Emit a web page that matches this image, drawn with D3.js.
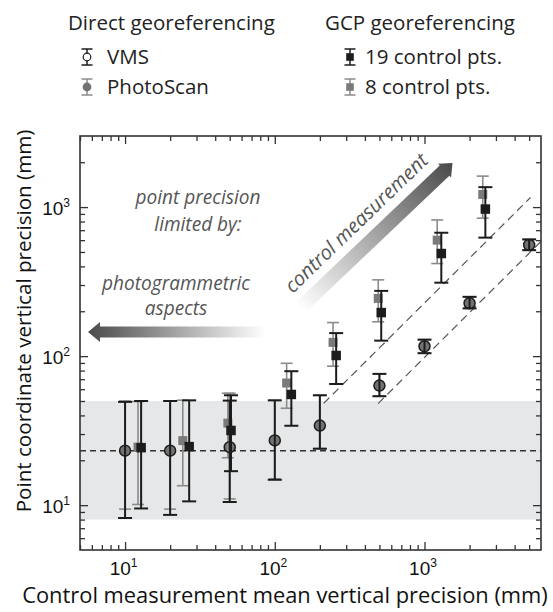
<!DOCTYPE html>
<html><head><meta charset="utf-8">
<script src="https://cdn.jsdelivr.net/npm/d3@7"></script>
<style>body{margin:0;background:#fff} svg{display:block}</style>
</head><body><svg id="c" width="553" height="612"></svg>
<script>
// ---------------- data ----------------
const vmsX  = [10, 20, 50, 100, 200, 500, 1000, 2000, 5000];
const vmsY  = [23.2, 23.2, 24.5, 27.2, 34.2, 63.4, 116.4, 226.5, 557];
const vmsLo = [8.2, 8.6, 10.5, 14.8, 23.9, 53.8, 104.6, 209, 514];
const vmsHi = [49.3, 50, 50.3, 50.5, 54.6, 76, 129, 250, 607];

const psX  = [10, 20, 50, 100, 200, 500, 1000, 2000, 5000];
const psY  = [23.2, 23.2, 24.5, 27.2, 34.2, 63.4, 116.4, 226.5, 557];
const psLo = [9.4, 9.4, 11.0, 15.0, 24.0, 54.0, 105, 210, 515];
const psHi = [50, 50, 56.3, 50.5, 54.6, 76, 129, 250, 607];

const gcp19X  = [12.8, 26.8, 51, 129, 257, 514, 1295, 2550];
const gcp19Y  = [24.3, 24.7, 31.7, 55.3, 101, 196, 488, 970];
const gcp19Lo = [9.5, 10.6, 16.9, 34.1, 65, 127, 311, 624];
const gcp19Hi = [50, 50.5, 54.6, 79.2, 142.7, 274, 673, 1361];

const gcp8X  = [12.2, 24.3, 48.6, 120, 245, 491, 1216, 2450];
const gcp8Y  = [24.5, 27.1, 35.5, 66, 123.7, 244, 600, 1216];
const gcp8Lo = [10.1, 13.5, 20.8, 44.7, 85.6, 170, 418, 843];
const gcp8Hi = [49.6, 50.6, 56.3, 89.5, 168, 325, 820, 1614];

const bandRange = [8, 50];
const meanLevel = 23.2;
const guideRatio  = [4.4, 10.2];     // guide: y = x / ratio
const guideXStart = [212, 490];
const guideXEnd   = [5100, 6000];

const xDomain = [5, 6000];
const yDomain = [5, 3000];
const xMajor = [10, 100, 1000];
const yMajor = [10, 100, 1000];
const xMinor = [5,6,7,8,9,20,30,40,50,60,70,80,90,200,300,400,500,600,700,800,900,2000,3000,4000,5000];
const yMinor = [6,7,8,9,20,30,40,50,60,70,80,90,200,300,400,500,600,700,800,900,2000];

const xTitle = "Control measurement mean vertical precision (mm)";
const yTitle = "Point coordinate vertical precision (mm)";
const legendHeads = ["Direct georeferencing", "GCP georeferencing"];
const legendLeft  = ["VMS", "PhotoScan"];
const legendRight = ["19 control pts.", "8 control pts."];
const noteLines1 = ["point precision", "limited by:"];
const noteLines2 = ["photogrammetric", "aspects"];
const noteArrow  = "control measurement";

// ---------------- layout ----------------
const FONT = "'Open Sans', 'Noto Sans', sans-serif";
const L = 80, R = 541, T = 136, B = 550;
const svg = d3.select("#c").style("font-family", FONT);
const x = d3.scaleLog().domain(xDomain).range([L, R]);
const y = d3.scaleLog().domain(yDomain).range([B, T]);

const BLACK = "#1c1c1c", GRAYBAR = "#8b8b8b", GRAYFILL = "#7a7a7a", CIRC = "#727272";

function fit(sel, target, base) {
  sel.attr("font-size", base);
  const len = sel.node().getComputedTextLength();
  const s = base * target / len;
  sel.attr("font-size", s);
  return s;
}

const defs = svg.append("defs");
defs.append("clipPath").attr("id", "plot").append("rect")
  .attr("x", L).attr("y", T).attr("width", R - L).attr("height", B - T);
const grad = defs.append("linearGradient").attr("id", "arrowGrad")
  .attr("x1", 0).attr("x2", 1).attr("y1", 0).attr("y2", 0);
grad.append("stop").attr("offset", "0%").attr("stop-color", "#ffffff");
grad.append("stop").attr("offset", "100%").attr("stop-color", "#4a4a4a");

const plot = svg.append("g").attr("clip-path", "url(#plot)");

// gray band
plot.append("rect").attr("x", L).attr("width", R - L)
  .attr("y", y(bandRange[1])).attr("height", y(bandRange[0]) - y(bandRange[1]))
  .attr("fill", "#e6e7e8");

// mean dashed level
plot.append("line").attr("x1", L).attr("x2", R)
  .attr("y1", y(meanLevel)).attr("y2", y(meanLevel))
  .attr("stroke", "#333").attr("stroke-width", 1.6).attr("stroke-dasharray", "6,4");

// diagonal guides
guideRatio.forEach((r, i) => {
  plot.append("line")
    .attr("x1", x(guideXStart[i])).attr("y1", y(guideXStart[i] / r))
    .attr("x2", x(guideXEnd[i])).attr("y2", y(guideXEnd[i] / r))
    .attr("stroke", "#555").attr("stroke-width", 1.2).attr("stroke-dasharray", "8,5");
});

// error bar series
function series(xs, ys, lo, hi, o) {
  const g = plot.append("g");
  const data = xs.map((v, i) => ({x: v, y: ys[i], lo: lo[i], hi: hi[i]}));
  g.selectAll("line.v").data(data).join("line")
    .attr("x1", d => x(d.x)).attr("x2", d => x(d.x))
    .attr("y1", d => y(d.lo)).attr("y2", d => y(d.hi))
    .attr("stroke", o.color).attr("stroke-width", o.w);
  ["lo", "hi"].forEach(k => {
    g.selectAll("line." + k).data(data).join("line")
      .attr("x1", d => x(d.x) - o.cap / 2).attr("x2", d => x(d.x) + o.cap / 2)
      .attr("y1", d => y(d[k])).attr("y2", d => y(d[k]))
      .attr("stroke", o.color).attr("stroke-width", o.w);
  });
  if (o.marker === "circle") {
    g.selectAll("circle").data(data).join("circle")
      .attr("cx", d => x(d.x)).attr("cy", d => y(d.y)).attr("r", o.size)
      .attr("fill", o.fill).attr("stroke", o.stroke).attr("stroke-width", o.sw);
  } else {
    g.selectAll("rect").data(data).join("rect")
      .attr("x", d => x(d.x) - o.size / 2).attr("y", d => y(d.y) - o.size / 2)
      .attr("width", o.size).attr("height", o.size)
      .attr("fill", o.fill);
  }
}
series(psX, psY, psLo, psHi, {color: GRAYBAR, w: 1.6, cap: 12, marker: "circle", size: 5.5, fill: CIRC, stroke: CIRC, sw: 0});
series(gcp8X, gcp8Y, gcp8Lo, gcp8Hi, {color: GRAYBAR, w: 1.6, cap: 12, marker: "square", size: 9, fill: GRAYFILL});
series(vmsX, vmsY, vmsLo, vmsHi, {color: BLACK, w: 2, cap: 14, marker: "circle", size: 5.5, fill: "none", stroke: BLACK, sw: 1.5});
series(gcp19X, gcp19Y, gcp19Lo, gcp19Hi, {color: BLACK, w: 2, cap: 14, marker: "square", size: 9.5, fill: BLACK});

// ---------------- axes ----------------
function styleAxis(g) {
  g.select(".domain").remove();
  g.selectAll(".tick line").attr("stroke", "#333").attr("stroke-width", 1.3);
}
function supLabels(g) {
  g.selectAll(".tick text").each(function(d) {
    const t = d3.select(this).text(null).attr("fill", "#111").attr("font-size", 19);
    t.append("tspan").text("10");
    t.append("tspan").attr("dy", -8).attr("font-size", 12).text(Math.round(Math.log10(d)));
  });
}
// bottom
svg.append("g").attr("transform", `translate(0,${B})`)
  .call(d3.axisBottom(x).tickValues(xMinor).tickSize(-5).tickFormat("")).call(styleAxis);
svg.append("g").attr("transform", `translate(0,${B})`)
  .call(d3.axisBottom(x).tickValues(xMajor).tickSize(-8).tickPadding(12).tickFormat(() => ""))
  .call(styleAxis).call(supLabels)
  .selectAll(".tick text").attr("dx", -2);
// top
svg.append("g").attr("transform", `translate(0,${T})`)
  .call(d3.axisTop(x).tickValues(xMinor).tickSize(-5).tickFormat("")).call(styleAxis);
svg.append("g").attr("transform", `translate(0,${T})`)
  .call(d3.axisTop(x).tickValues(xMajor).tickSize(-8).tickFormat("")).call(styleAxis);
// left
svg.append("g").attr("transform", `translate(${L},0)`)
  .call(d3.axisLeft(y).tickValues(yMinor).tickSize(-5).tickFormat("")).call(styleAxis);
svg.append("g").attr("transform", `translate(${L},0)`)
  .call(d3.axisLeft(y).tickValues(yMajor).tickSize(-8).tickPadding(10).tickFormat(() => ""))
  .call(styleAxis).call(supLabels)
  .selectAll(".tick text").attr("dy", "0.38em");
// right
svg.append("g").attr("transform", `translate(${R},0)`)
  .call(d3.axisRight(y).tickValues(yMinor).tickSize(-5).tickFormat("")).call(styleAxis);
svg.append("g").attr("transform", `translate(${R},0)`)
  .call(d3.axisRight(y).tickValues(yMajor).tickSize(-8).tickFormat("")).call(styleAxis);

// frame
svg.append("rect").attr("x", L).attr("y", T).attr("width", R - L).attr("height", B - T)
  .attr("fill", "none").attr("stroke", "#333").attr("stroke-width", 1.6);

// axis titles
const xt = svg.append("text").attr("x", 285).attr("y", 603).attr("text-anchor", "middle")
  .attr("fill", "#111").text(xTitle);
fit(xt, 526, 20);
const yt = svg.append("text").attr("transform", "translate(31,321) rotate(-90)")
  .attr("text-anchor", "middle").attr("fill", "#111").text(yTitle);
fit(yt, 383, 20);

// ---------------- arrows & notes ----------------
function arrow(x0, y0, x1, y1, hw, HW, hl) {
  const Ln = Math.hypot(x1 - x0, y1 - y0);
  const ang = Math.atan2(y1 - y0, x1 - x0) * 180 / Math.PI;
  const p = [[0, -hw], [Ln - hl, -hw], [Ln - hl, -HW], [Ln, 0], [Ln - hl, HW], [Ln - hl, hw], [0, hw]];
  svg.append("g").attr("transform", `translate(${x0},${y0}) rotate(${ang})`)
    .append("path").attr("d", "M" + p.map(q => q.join(",")).join("L") + "Z")
    .attr("fill", "url(#arrowGrad)");
}
arrow(265, 332, 88, 332, 5.5, 10, 12);
arrow(300, 308, 452.5, 163, 7, 9.5, 11);

const NOTE = "#555";
const n1 = svg.append("text").attr("x", 198).attr("y", 204).attr("text-anchor", "middle")
  .attr("font-style", "italic").attr("fill", NOTE).text(noteLines1[0]);
const ns = fit(n1, 125, 17);
svg.append("text").attr("x", 198).attr("y", 231).attr("text-anchor", "middle")
  .attr("font-style", "italic").attr("fill", NOTE).attr("font-size", ns).text(noteLines1[1]);
svg.append("text").attr("x", 176).attr("y", 290).attr("text-anchor", "middle")
  .attr("font-style", "italic").attr("fill", NOTE).attr("font-size", ns).text(noteLines2[0]);
svg.append("text").attr("x", 176).attr("y", 315).attr("text-anchor", "middle")
  .attr("font-style", "italic").attr("fill", NOTE).attr("font-size", ns).text(noteLines2[1]);
const ca = svg.append("text").attr("transform", "translate(361,228) rotate(-44)")
  .attr("text-anchor", "middle").attr("font-style", "italic").attr("fill", NOTE).text(noteArrow);
fit(ca, 190, 19);

// ---------------- legend ----------------
const lh = svg.append("text").attr("x", 68).attr("y", 30).attr("fill", "#222").text(legendHeads[0]);
const ls = fit(lh, 207, 19);
svg.append("text").attr("x", 325).attr("y", 30).attr("fill", "#222").attr("font-size", ls).text(legendHeads[1]);

function legendItem(cx, cy, label, tx, o) {
  const g = svg.append("g");
  g.append("line").attr("x1", cx).attr("x2", cx).attr("y1", cy - 8).attr("y2", cy + 8)
    .attr("stroke", o.color).attr("stroke-width", 1.5);
  [-8, 8].forEach(d => g.append("line").attr("x1", cx - 5.5).attr("x2", cx + 5.5)
    .attr("y1", cy + d).attr("y2", cy + d).attr("stroke", o.color).attr("stroke-width", 1.5));
  if (o.marker === "circle") {
    g.append("circle").attr("cx", cx).attr("cy", cy).attr("r", 3.8)
      .attr("fill", o.fill).attr("stroke", o.stroke).attr("stroke-width", 1.2);
  } else {
    g.append("rect").attr("x", cx - 3.8).attr("y", cy - 3.8).attr("width", 7.6).attr("height", 7.6)
      .attr("fill", o.fill);
  }
  svg.append("text").attr("x", tx).attr("y", cy + 7).attr("fill", "#222").attr("font-size", ls).text(label);
}
legendItem(87, 57, legendLeft[0], 107, {color: BLACK, marker: "circle", fill: "#fff", stroke: BLACK});
legendItem(87, 87, legendLeft[1], 107, {color: GRAYBAR, marker: "circle", fill: CIRC, stroke: CIRC});
legendItem(350, 57, legendRight[0], 365, {color: BLACK, marker: "square", fill: BLACK});
legendItem(350, 87, legendRight[1], 365, {color: GRAYBAR, marker: "square", fill: GRAYFILL});
</script>
</body></html>
